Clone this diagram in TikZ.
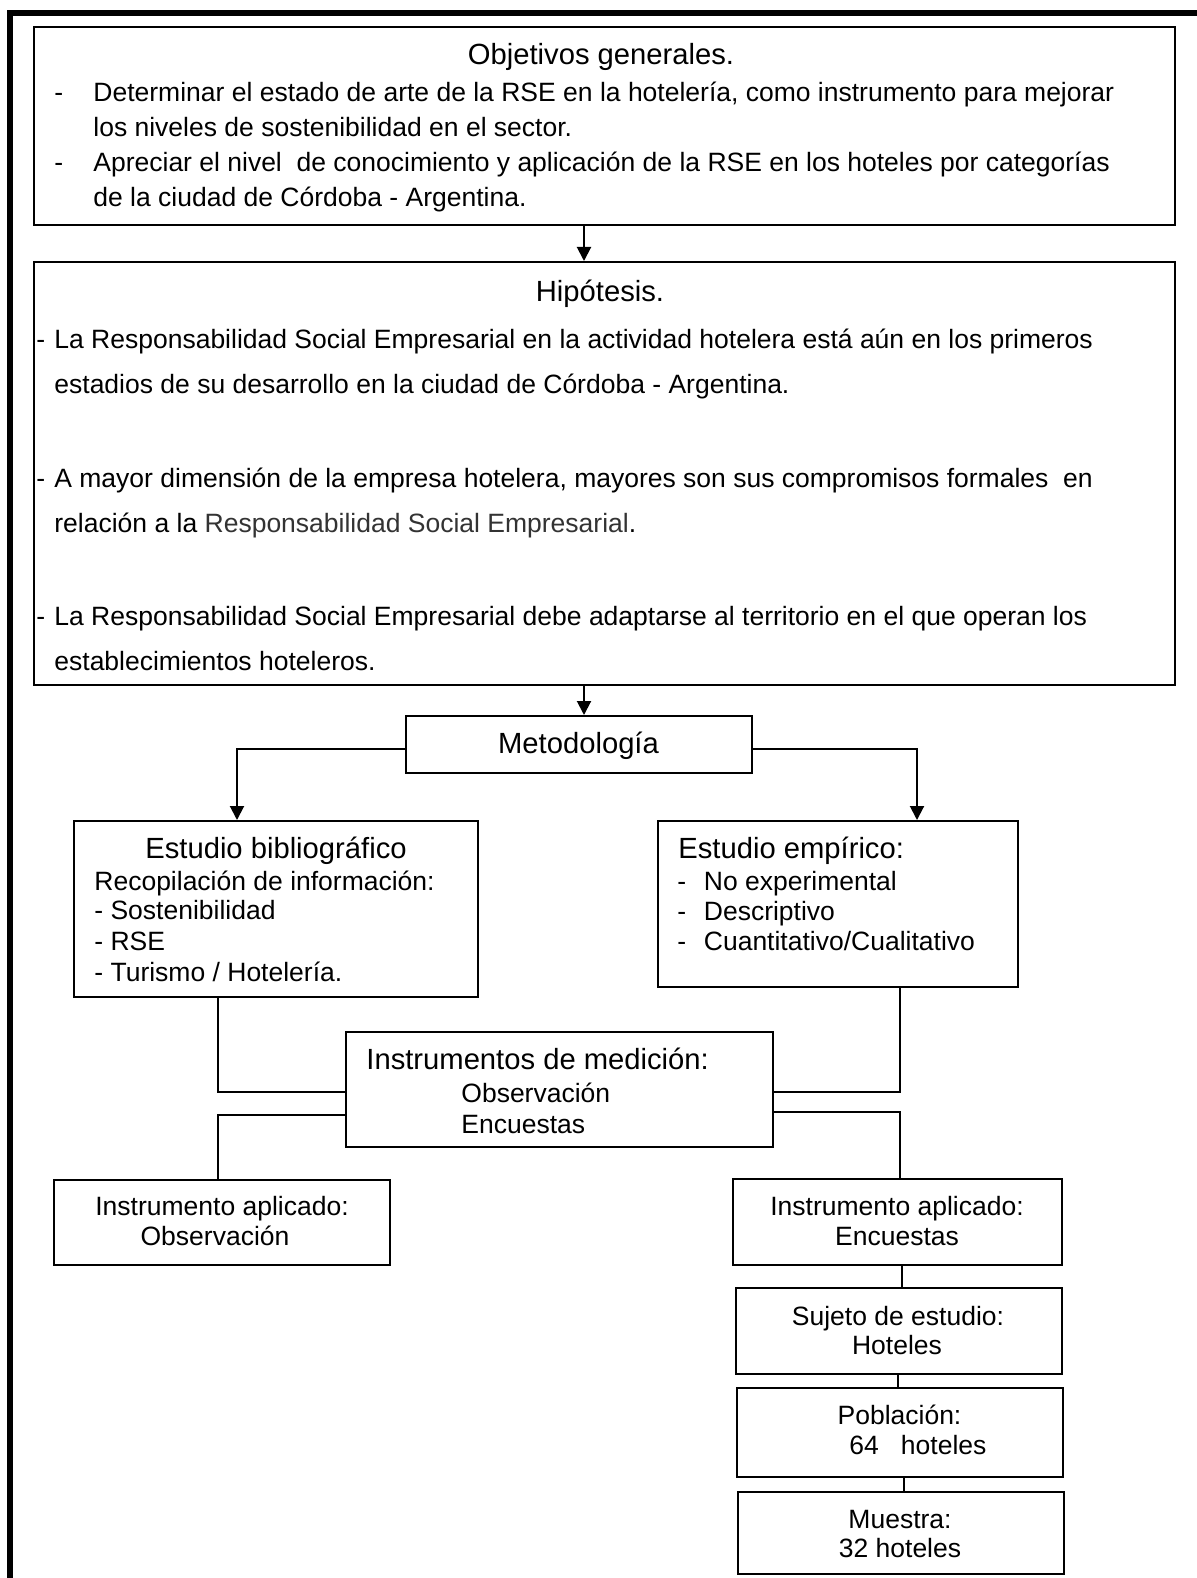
\documentclass[tikz,border=0pt]{standalone}
\usepackage{fontspec}
\setmainfont{Liberation Sans}
\usetikzlibrary{arrows.meta,fit}
\definecolor{rsegray}{HTML}{333333}
\begin{document}
\begin{tikzpicture}[x=0.5pt,y=-0.5pt,
  box/.style={draw, line width=1pt, inner sep=0pt},
  conn/.style={line width=1pt},
  arr/.style={line width=1pt,-{Triangle[length=7pt,width=7pt]}},
  bd/.style={inner sep=0pt, anchor=base west, font=\fontsize{13.25pt}{16pt}\selectfont},
  bdc/.style={inner sep=0pt, anchor=base, font=\fontsize{13.25pt}{16pt}\selectfont},
  tt/.style={inner sep=0pt, anchor=base west, font=\fontsize{14.6pt}{17pt}\selectfont},
  ttc/.style={inner sep=0pt, anchor=base, font=\fontsize{14.6pt}{17pt}\selectfont},
]
\useasboundingbox (0,0) rectangle (1197,1578);
% outer frame (top and left only)
\draw[line width=2.8pt] (1197,13) -- (9.8,13) -- (9.8,1578);

% boxes
\node[box, fit={(34,27) (1175,225)}] (obj) {};
\node[box, fit={(34,262) (1175,685)}] (hyp) {};
\node[box, fit={(406,716) (752,773)}] (met) {};
\node[box, fit={(74,821) (478,997)}] (bib) {};
\node[box, fit={(658,821) (1018,987)}] (emp) {};
\node[box, fit={(346,1032) (773,1147)}] (ins) {};
\node[box, fit={(54,1180) (390,1265)}] (apo) {};
\node[box, fit={(733,1179) (1062,1265)}] (ape) {};
\node[box, fit={(736,1288) (1062,1374)}] (suj) {};
\node[box, line width=1.4pt, fit={(737,1388) (1063,1477)}] (pob) {};
\node[box, fit={(738,1492) (1064,1574)}] (mue) {};

% Objetivos text
\node[ttc] (objt) at (601,65) {Objetivos generales.};
\node[bd] (od1) at (54,102) {-};
\node[bd] (o1) at (93,102) {Determinar el estado de arte de la RSE en la hotelería, como instrumento para mejorar};
\node[bd] (o2) at (93,137) {los niveles de sostenibilidad en el sector.};
\node[bd] (od2) at (54,172) {-};
\node[bd] (o3) at (93,172) {Apreciar el nivel\ \ de conocimiento y aplicación de la RSE en los hoteles por categorías};
\node[bd] (o4) at (93,207) {de la ciudad de Córdoba - Argentina.};

% Hipotesis text
\node[ttc] (hypt) at (600,301) {Hipótesis.};
\node[bd] (hd1) at (36,348) {-};
\node[bd] (h1) at (54,348) {La Responsabilidad Social Empresarial en la actividad hotelera está aún en los primeros};
\node[bd] (h2) at (54,393) {estadios de su desarrollo en la ciudad de Córdoba - Argentina.};
\node[bd] (hd2) at (36,487) {-};
\node[bd] (h3) at (54,487) {A mayor dimensión de la empresa hotelera, mayores son sus compromisos formales\ \ en};
\node[bd] (h4) at (54,532) {relación a la {\color{rsegray}Responsabilidad Social Empresarial}.};
\node[bd] (hd3) at (36,625) {-};
\node[bd] (h5) at (54,625) {La Responsabilidad Social Empresarial debe adaptarse al territorio en el que operan los};
\node[bd] (h6) at (54,670) {establecimientos hoteleros.};

% Metodologia
\node[ttc] (mett) at (578.5,753) {Metodología};

% Estudio bibliografico
\node[ttc] (bibt) at (276,858) {Estudio bibliográfico};
\node[bd] (b1) at (94,890) {Recopilación de información:};
\node[bd] (b2) at (94,919) {- Sostenibilidad};
\node[bd] (b3) at (94,950) {- RSE};
\node[bd] (b4) at (94,981) {- Turismo / Hotelería.};

% Estudio empirico
\node[tt] (empt) at (678,858) {Estudio empírico:};
\node[bd] (ed1) at (677,890) {-};
\node[bd] (e1) at (703.5,890) {No experimental};
\node[bd] (ed2) at (677,920) {-};
\node[bd] (e2) at (703.5,920) {Descriptivo};
\node[bd] (ed3) at (677,950) {-};
\node[bd] (e3) at (703.5,950) {Cuantitativo/Cualitativo};

% Instrumentos
\node[tt] (inst) at (366,1069) {Instrumentos de medición:};
\node[bd] (i1) at (461,1102) {Observación};
\node[bd] (i2) at (461,1133) {Encuestas};

% Instrumento aplicado boxes
\node[bdc] (ao1) at (222,1215) {Instrumento aplicado:};
\node[bdc] (ao2) at (215,1245) {Observación};
\node[bdc] (ae1) at (897,1215) {Instrumento aplicado:};
\node[bdc] (ae2) at (897,1245) {Encuestas};

% lower chain
\node[bdc] (s1) at (898,1325) {Sujeto de estudio:};
\node[bdc] (s2) at (897,1354) {Hoteles};
\node[bdc] (p1) at (899.5,1424) {Población:};
\node[bd] (p2) at (849,1454) {64\ \ \ hoteles};
\node[bdc] (m1) at (900,1528) {Muestra:};
\node[bdc] (m2) at (900,1557) {32 hoteles};

% connectors
\coordinate (ax) at (584,0);
\draw[arr] (obj.south -| ax) -- (hyp.north -| ax);
\draw[arr] (hyp.south -| ax) -- (met.north -| ax);
\coordinate (bl) at (237,749);
\coordinate (br) at (917,749);
\draw[arr] (met.west |- bl) -- (bl) -- (bib.north -| bl);
\draw[arr] (met.east |- br) -- (br) -- (emp.north -| br);

\coordinate (j1) at (218,1092);
\coordinate (j2) at (900,1092);
\coordinate (j3) at (218,1115);
\coordinate (j4) at (900,1112);
\draw[conn] (bib.south -| j1) -- (j1) -- (ins.west |- j1);
\draw[conn] (emp.south -| j2) -- (j2) -- (ins.east |- j2);
\draw[conn] (ins.west |- j3) -- (j3) -- (apo.north -| j3);
\draw[conn] (ins.east |- j4) -- (j4) -- (ape.north -| j4);

\coordinate (j5) at (902,0);
\coordinate (j6) at (898,0);
\coordinate (j7) at (904,0);
\draw[conn] (ape.south -| j5) -- (suj.north -| j5);
\draw[line width=0.7pt] (suj.south -| j6) -- (pob.north -| j6);
\draw[conn] (pob.south -| j7) -- (mue.north -| j7);
\end{tikzpicture}
\end{document}
